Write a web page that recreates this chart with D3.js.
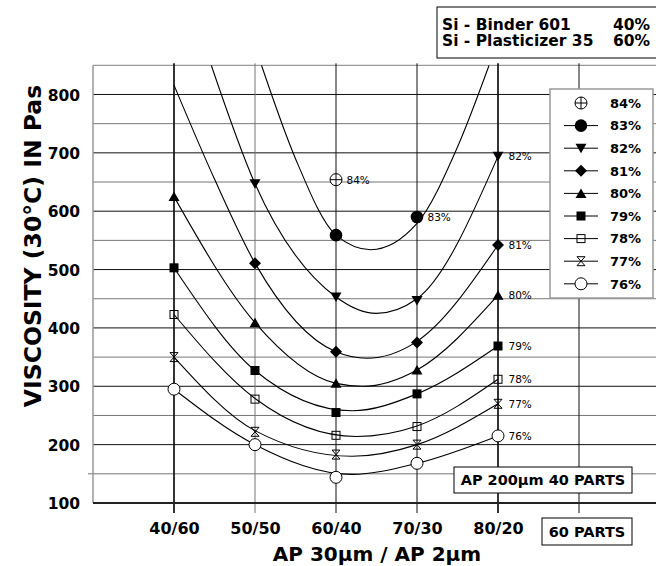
<!DOCTYPE html>
<html><head><meta charset="utf-8">
<script src="https://cdn.jsdelivr.net/npm/d3@7"></script>
<style>
body{margin:0;background:#fff}
svg{display:block}
text{font-family:"DejaVu Sans",sans-serif;fill:#000}
</style>
</head><body>
<svg id="c" width="656" height="566"></svg>
<script>
// ---------- data ----------
const categories = ["40/60","50/50","60/40","70/30","80/20"];
const yTickValues = [100,200,300,400,500,600,700,800];
const seriesNames = ["84%","83%","82%","81%","80%","79%","78%","77%","76%"];

// measured viscosities at each category (null = not measured)
const v84 = [null,null,654,null,null];
const v83 = [null,null,559,590,null];
const v82 = [null,647,453,447,694];
const v81 = [null,511,359,375,542];
const v80 = [625,409,305,328,456];
const v79 = [503,327,255,287,369];
const v78 = [423,278,216,231,312];
const v77 = [350,222,183,200,270];
const v76 = [295,200,144,168,215];

// fitted curves: [category position (1 = 40/60 ... 5 = 80/20), value]
const fit83 = [[2.08,850],[2.5,690],[3,559],[3.43,534],[4,579],[4.5,710],[4.89,850]];
const fit82 = [[1.46,850],[2,647],[3,453],[3.5,425],[4,450],[5,694]];
const fit81 = [[1,816],[1.5,655],[2,511],[3,359],[3.38,348],[4,377],[5,542]];
const fit80 = [[1,625],[2,409],[3,305],[3.33,300],[4,328],[5,456]];
const fit79 = [[1,503],[2,327],[3.2,258],[4,287],[5,369]];
const fit78 = [[1,423],[2,279],[3.25,214],[4,232],[5,312]];
const fit77 = [[1,350],[2,224],[3.2,180],[4,200],[5,270]];
const fit76 = [[1,295],[2,200],[3.2,149],[4,168],[5,215]];

const markerTypes = ["crossCircle","dot","triDown","diamond","triUp","square","openSquare","hourglass","openCircle"];
const values = [v84,v83,v82,v81,v80,v79,v78,v77,v76];
const fits = [null,fit83,fit82,fit81,fit80,fit79,fit78,fit77,fit76];

// ---------- drawing ----------
const svg = d3.select("#c");
const x = d3.scaleLinear().domain([0,7]).range([93,660]);
const y = d3.scaleLinear().domain([100,850]).range([503,65.3]);
const X0 = 93, X1 = 656;

// horizontal grid
const gridVals = d3.range(150, 801, 50);
svg.append("g").selectAll("line").data(gridVals).join("line")
  .attr("x1", d => d === 150 ? 88 : X0).attr("x2", X1)
  .attr("y1", d => y(d)).attr("y2", d => y(d))
  .attr("stroke", d => d % 100 === 0 ? "#111" : "#777").attr("stroke-width", 1);
// top border
svg.append("line").attr("x1",X0).attr("x2",X1).attr("y1",y(850)).attr("y2",y(850))
  .attr("stroke","#999").attr("stroke-width",1.2);
// left frame
svg.append("line").attr("x1",X0).attr("x2",X0).attr("y1",y(850)).attr("y2",y(100))
  .attr("stroke","#999").attr("stroke-width",1.5);

// vertical grid + ticks
const vPos = [1,2,3,4,5,6];
svg.append("g").selectAll("line").data(vPos).join("line")
  .attr("x1", d => x(d)).attr("x2", d => x(d))
  .attr("y1", y(850) - 2).attr("y2", y(100) + 10)
  .attr("stroke", d => d === 2 ? "#777" : "#111")
  .attr("stroke-width", d => (d === 1 || d === 5) ? 1.7 : 1);

// bottom axis line
svg.append("line").attr("x1",X0).attr("x2",X1).attr("y1",y(100)).attr("y2",y(100))
  .attr("stroke","#222").attr("stroke-width",2);

// y axis labels via d3 axis
const yAxis = svg.append("g").attr("transform", `translate(${X0},0)`)
  .call(d3.axisLeft(y).tickValues(yTickValues).tickSize(0).tickPadding(13));
yAxis.select(".domain").remove();
yAxis.selectAll("text").attr("font-family","DejaVu Sans").attr("font-weight","bold")
  .attr("font-size","15.5px").attr("fill","#000").attr("dy","0.36em");

// x axis labels via d3 axis
const xAxis = svg.append("g").attr("transform", `translate(0,${y(100)})`)
  .call(d3.axisBottom(x).tickValues([1,2,3,4,5]).tickFormat((d,i) => categories[i]).tickSize(0).tickPadding(20));
xAxis.select(".domain").remove();
xAxis.selectAll("text").attr("font-family","DejaVu Sans").attr("font-weight","bold")
  .attr("font-size","16px").attr("fill","#000");

// axis titles
svg.append("text").attr("x",377).attr("y",560.5).attr("text-anchor","middle")
  .attr("font-weight","bold").attr("font-size","20px").text("AP 30µm / AP 2µm");
svg.append("text").attr("transform","translate(40.5,246) rotate(-90)").attr("text-anchor","middle")
  .attr("font-weight","bold").attr("font-size","23.5px").text("VISCOSITY (30°C) IN Pas");

// clip
svg.append("clipPath").attr("id","clip").append("rect")
  .attr("x",X0).attr("y",y(850)).attr("width",X1-X0).attr("height",y(100)-y(850));

// curves
const line = d3.line().x(d => x(d[0])).y(d => y(d[1])).curve(d3.curveMonotoneX);
svg.append("g").attr("clip-path","url(#clip)").selectAll("path")
  .data(fits.filter(f => f)).join("path")
  .attr("d", line).attr("fill","none").attr("stroke","#000").attr("stroke-width",1.1);

// marker drawing
function marker(g, type, cx, cy) {
  const s = g.append("g").attr("transform", `translate(${cx},${cy})`);
  switch (type) {
    case "crossCircle":
      s.append("circle").attr("r",6).attr("fill","#fff").attr("stroke","#000").attr("stroke-width",1);
      s.append("path").attr("d","M-6,0H6M0,-6V6").attr("stroke","#000").attr("stroke-width",1);
      break;
    case "dot":
      s.append("circle").attr("r",6.3).attr("fill","#000"); break;
    case "triDown":
      s.append("path").attr("d","M-5.5,-4.5L5.5,-4.5L0,5Z").attr("fill","#000"); break;
    case "diamond":
      s.append("path").attr("d","M0,-6L6,0L0,6L-6,0Z").attr("fill","#000"); break;
    case "triUp":
      s.append("path").attr("d","M0,-5L5.5,4.5L-5.5,4.5Z").attr("fill","#000"); break;
    case "square":
      s.append("rect").attr("x",-4.5).attr("y",-4.5).attr("width",9).attr("height",9).attr("fill","#000"); break;
    case "openSquare":
      s.append("rect").attr("x",-4).attr("y",-4).attr("width",8).attr("height",8)
        .attr("fill","none").attr("stroke","#000").attr("stroke-width",1); break;
    case "hourglass":
      s.append("path").attr("d","M-4,-4.5H4L-4,4.5H4Z").attr("fill","none").attr("stroke","#000").attr("stroke-width",1); break;
    case "openCircle":
      s.append("circle").attr("r",6).attr("fill","#fff").attr("stroke","#000").attr("stroke-width",1); break;
  }
}

const mg = svg.append("g");
values.forEach((arr, si) => {
  arr.forEach((v, ci) => {
    if (v != null) marker(mg, markerTypes[si], x(ci + 1), y(v));
  });
});

// curve labels
const lg = svg.append("g").attr("font-size","10.5px");
values.forEach((arr, si) => {
  let ci = si === 0 ? 2 : (si === 1 ? 3 : 4);
  const v = arr[ci];
  lg.append("text").attr("x", x(ci + 1) + 10.5).attr("y", y(v) + 3.9).text(seriesNames[si]);
});

// legend
const leg = svg.append("g");
leg.append("rect").attr("x",550).attr("y",89).attr("width",103).attr("height",209)
  .attr("fill","#fff").attr("stroke","#999").attr("stroke-width",1.5);
seriesNames.forEach((name, i) => {
  const cy = 103 + i * 22.6;
  if (i > 0) leg.append("line").attr("x1",564).attr("x2",598).attr("y1",cy).attr("y2",cy)
    .attr("stroke","#000").attr("stroke-width",1);
  marker(leg, markerTypes[i], 581, cy);
  leg.append("text").attr("x",610).attr("y",cy + 4.8).attr("font-weight","bold")
    .attr("font-size","13px").text(name);
});

// top-right composition box
const tb = svg.append("g");
tb.append("rect").attr("x",437).attr("y",7).attr("width",240).attr("height",51)
  .attr("fill","#fff").attr("stroke","#000").attr("stroke-width",1);
const tbRows = [["Si - Binder 601","40%"],["Si - Plasticizer 35","60%"]];
tbRows.forEach((r, i) => {
  tb.append("text").attr("x",442).attr("y",30 + i*16.3).attr("font-weight","bold").attr("font-size","15.5px").text(r[0]);
  tb.append("text").attr("x",650).attr("y",30 + i*16.3).attr("text-anchor","end").attr("font-weight","bold").attr("font-size","15.5px").text(r[1]);
});

// bottom boxes
const boxes = [
  {x:454, y:467, w:178, h:26, t:"AP 200µm 40 PARTS"},
  {x:542, y:518, w:90, h:27, t:"60 PARTS"}
];
boxes.forEach(b => {
  svg.append("rect").attr("x",b.x).attr("y",b.y).attr("width",b.w).attr("height",b.h)
    .attr("fill","#fff").attr("stroke","#000").attr("stroke-width",1);
  svg.append("text").attr("x",b.x + b.w/2).attr("y",b.y + b.h/2 + 5.3).attr("text-anchor","middle")
    .attr("font-weight","bold").attr("font-size","14.5px").text(b.t);
});
</script>
</body></html>
